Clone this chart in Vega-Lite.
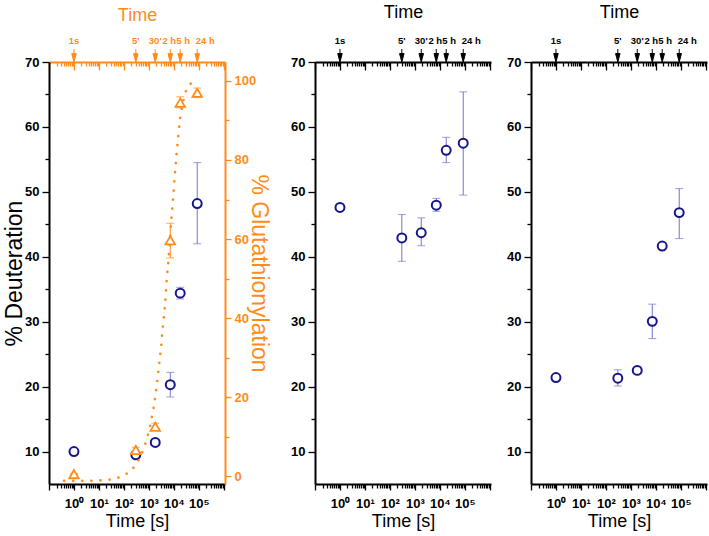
{
  "$schema": "https://vega.github.io/schema/vega-lite/v6.json",
  "padding": {"left": 3, "top": 3, "right": 4, "bottom": 4},
  "background": "white",
  "datasets": {
    "deut1": [
      {"t": 1, "v": 10.0, "lo": 9.8, "hi": 10.2},
      {"t": 300, "v": 9.5, "lo": 9.2, "hi": 9.8},
      {"t": 1800, "v": 11.4, "lo": 11.1, "hi": 11.7},
      {"t": 7200, "v": 20.3, "lo": 18.4, "hi": 22.2},
      {"t": 18000, "v": 34.4, "lo": 33.5, "hi": 35.3},
      {"t": 86400, "v": 48.2, "lo": 42.0, "hi": 54.5}
    ],
    "glut1": [
      {"t": 1, "g": 0.5, "lo": 0.3, "hi": 0.7},
      {"t": 300, "g": 6.6, "lo": 5.9, "hi": 7.3},
      {"t": 1800, "g": 12.5, "lo": 11.6, "hi": 13.4},
      {"t": 7200, "g": 59.7, "lo": 55.2, "hi": 64.0},
      {"t": 18000, "g": 94.5, "lo": 93.2, "hi": 96.0},
      {"t": 86400, "g": 97.0, "lo": 95.8, "hi": 98.2}
    ],
    "fit1": [
      {"t": 0.4, "g": -1.2}, {"t": 1, "g": -1.2}, {"t": 3.3, "g": -1.2}, {"t": 11, "g": -1.1},
      {"t": 33, "g": -0.8}, {"t": 83, "g": 0}, {"t": 195, "g": 1.5}, {"t": 330, "g": 3.3},
      {"t": 620, "g": 7}, {"t": 1100, "g": 12.5}, {"t": 1700, "g": 19}, {"t": 2450, "g": 27},
      {"t": 3100, "g": 33}, {"t": 3650, "g": 38}, {"t": 4500, "g": 44}, {"t": 5250, "g": 50},
      {"t": 6300, "g": 56}, {"t": 7750, "g": 64}, {"t": 9500, "g": 71}, {"t": 11500, "g": 78},
      {"t": 14000, "g": 84}, {"t": 17000, "g": 89.5}, {"t": 20000, "g": 92.5}, {"t": 25000, "g": 95.5},
      {"t": 33000, "g": 98}, {"t": 45000, "g": 99.2}, {"t": 60000, "g": 99.6}, {"t": 80000, "g": 100}
    ],
    "deut2": [
      {"t": 1, "v": 47.6, "lo": 47.4, "hi": 47.8},
      {"t": 300, "v": 42.9, "lo": 39.3, "hi": 46.5},
      {"t": 1800, "v": 43.7, "lo": 41.7, "hi": 46.0},
      {"t": 7200, "v": 47.95, "lo": 47.0, "hi": 49.0},
      {"t": 18000, "v": 56.4, "lo": 54.5, "hi": 58.4},
      {"t": 86400, "v": 57.5, "lo": 49.5, "hi": 65.4}
    ],
    "deut3": [
      {"t": 1, "v": 21.4, "lo": 21.2, "hi": 21.6},
      {"t": 300, "v": 21.3, "lo": 20.1, "hi": 22.6},
      {"t": 1800, "v": 22.5, "lo": 22.2, "hi": 22.8},
      {"t": 7200, "v": 30.05, "lo": 27.4, "hi": 32.7},
      {"t": 18000, "v": 41.65, "lo": 41.4, "hi": 41.9},
      {"t": 86400, "v": 46.8, "lo": 42.8, "hi": 50.5}
    ],
    "arrows": [
      {"t": 1, "label": "1s"}, {"t": 300, "label": "5'"}, {"t": 1800, "label": "30'"},
      {"t": 7200, "label": "2 h"}, {"t": 18000, "label": "5 h"}, {"t": 86400, "label": "24 h"}
    ]
  },
  "hconcat": [
    {
      "width": 176, "height": 422,
      "layer": [
        {
          "encoding": {
            "x": {"field": "t", "type": "quantitative", "scale": {"type": "log", "domain": [0.1, 1120000]},
              "axis": {"orient": "bottom", "values": [0.1,0.2,0.3,0.4,0.5,0.6,0.7,0.8,0.9,1,2,3,4,5,6,7,8,9,10,20,30,40,50,60,70,80,90,100,200,300,400,500,600,700,800,900,1000,2000,3000,4000,5000,6000,7000,8000,9000,10000,20000,30000,40000,50000,60000,70000,80000,90000,100000,200000,300000,400000,500000,600000,700000,800000,900000,1000000],
                "labelExpr": "datum.value == 1 ? '10⁰' : datum.value == 10 ? '10¹' : datum.value == 100 ? '10²' : datum.value == 1000 ? '10³' : datum.value == 10000 ? '10⁴' : datum.value == 100000 ? '10⁵' : ''",
                "labelOverlap": false, "labelFlush": false,
                "tickSize": {"condition": {"test": "indexof([0.1,1,10,100,1000,10000,100000,1000000], datum.value) >= 0", "value": 6}, "value": 4},
                "labelPadding": 7, "title": "Time [s]", "titleFontSize": 18, "titlePadding": 2}}
          },
          "layer": [
            {"data": {"name": "deut1"},
             "mark": {"type": "errorbar", "ticks": true, "size": 8, "thickness": 1, "color": "#7373c9"},
             "encoding": {
               "y": {"field": "lo", "type": "quantitative", "scale": {"domain": [5, 70], "nice": false, "zero": false},
                 "axis": {"orient": "left", "values": [10,15,20,25,30,35,40,45,50,55,60,65,70], "labelExpr": "datum.value % 10 == 0 ? datum.label : ''",
                   "tickSize": {"condition": {"test": "datum.value % 10 == 0", "value": 7}, "value": 4}, "labelPadding": 3,
                   "title": "% Deuteration", "titleFontSize": 23, "titlePadding": -2}},
               "y2": {"field": "hi"}}},
            {"data": {"name": "deut1"},
             "mark": {"type": "point", "shape": "circle", "size": 80, "filled": true, "fill": "white", "stroke": "#16168c", "strokeWidth": 2, "opacity": 1},
             "encoding": {
               "y": {"field": "v", "type": "quantitative", "scale": {"domain": [5, 70], "nice": false, "zero": false},
                 "axis": {"orient": "left", "values": [10,15,20,25,30,35,40,45,50,55,60,65,70], "labelExpr": "datum.value % 10 == 0 ? datum.label : ''",
                   "tickSize": {"condition": {"test": "datum.value % 10 == 0", "value": 7}, "value": 4}, "labelPadding": 3,
                   "title": "% Deuteration", "titleFontSize": 23, "titlePadding": -2}}}}
          ]
        },
        {
          "encoding": {
            "x": {"field": "t", "type": "quantitative", "scale": {"type": "log", "domain": [0.1, 1120000]},
              "axis": {"orient": "top", "values": [0.1,0.2,0.3,0.4,0.5,0.6,0.7,0.8,0.9,1,2,3,4,5,6,7,8,9,10,20,30,40,50,60,70,80,90,100,200,300,400,500,600,700,800,900,1000,2000,3000,4000,5000,6000,7000,8000,9000,10000,20000,30000,40000,50000,60000,70000,80000,90000,100000,200000,300000,400000,500000,600000,700000,800000,900000,1000000],
                "labels": false,
                "tickSize": {"condition": {"test": "indexof([0.1,1,10,100,1000,10000,100000,1000000], datum.value) >= 0", "value": -8}, "value": -4},
                "domainColor": "#ff8c1a", "tickColor": "#ff8c1a", "titleColor": "#ff8c1a",
                "title": "Time", "titleFontSize": 18, "titlePadding": 37}}
          },
          "layer": [
            {"data": {"name": "fit1"},
             "mark": {"type": "line", "color": "#ff8c1a", "strokeWidth": 2.6, "strokeDash": [0.1, 9], "strokeCap": "round", "interpolate": "monotone"},
             "encoding": {
               "y": {"field": "g", "type": "quantitative", "scale": {"domain": [-2, 104.8], "nice": false, "zero": false},
                 "axis": {"orient": "right", "values": [0,10,20,30,40,50,60,70,80,90,100], "labelExpr": "datum.value % 20 == 0 ? datum.label : ''",
                   "tickSize": {"condition": {"test": "datum.value % 20 == 0", "value": 6}, "value": 4}, "labelPadding": 3,
                   "domainColor": "#ff8c1a", "tickColor": "#ff8c1a", "labelColor": "#ff8c1a",
                   "title": "% Glutathionylation", "titleColor": "#ff8c1a", "titleFontSize": 23, "titlePadding": -9}}}},
            {"data": {"name": "glut1"},
             "mark": {"type": "errorbar", "ticks": true, "size": 8, "thickness": 1, "color": "#ff8c1a"},
             "encoding": {
               "y": {"field": "lo", "type": "quantitative", "scale": {"domain": [-2, 104.8], "nice": false, "zero": false},
                 "axis": {"orient": "right", "values": [0,10,20,30,40,50,60,70,80,90,100], "labelExpr": "datum.value % 20 == 0 ? datum.label : ''",
                   "tickSize": {"condition": {"test": "datum.value % 20 == 0", "value": 6}, "value": 4}, "labelPadding": 3,
                   "domainColor": "#ff8c1a", "tickColor": "#ff8c1a", "labelColor": "#ff8c1a",
                   "title": "% Glutathionylation", "titleColor": "#ff8c1a", "titleFontSize": 23, "titlePadding": -9}},
               "y2": {"field": "hi"}}},
            {"data": {"name": "glut1"},
             "mark": {"type": "point", "shape": "triangle-up", "size": 90, "filled": true, "fill": "white", "stroke": "#ff8c1a", "strokeWidth": 1.8, "opacity": 1},
             "encoding": {
               "y": {"field": "g", "type": "quantitative", "scale": {"domain": [-2, 104.8], "nice": false, "zero": false},
                 "axis": {"orient": "right", "values": [0,10,20,30,40,50,60,70,80,90,100], "labelExpr": "datum.value % 20 == 0 ? datum.label : ''",
                   "tickSize": {"condition": {"test": "datum.value % 20 == 0", "value": 6}, "value": 4}, "labelPadding": 3,
                   "domainColor": "#ff8c1a", "tickColor": "#ff8c1a", "labelColor": "#ff8c1a",
                   "title": "% Glutathionylation", "titleColor": "#ff8c1a", "titleFontSize": 23, "titlePadding": -9}}}},
            {"data": {"name": "arrows"},
             "mark": {"type": "point", "shape": "M0,-1.3V-0.5M-0.4,-0.5H0.4L0,1Z", "size": 128, "filled": true, "fill": "#ff8c1a", "stroke": "#ff8c1a", "strokeWidth": 1, "opacity": 1},
             "encoding": {
               "y": {"datum": 106.2, "type": "quantitative", "scale": {"domain": [-2, 104.8], "nice": false, "zero": false},
                 "axis": {"orient": "right", "values": [0,10,20,30,40,50,60,70,80,90,100], "labelExpr": "datum.value % 20 == 0 ? datum.label : ''",
                   "tickSize": {"condition": {"test": "datum.value % 20 == 0", "value": 6}, "value": 4}, "labelPadding": 3,
                   "domainColor": "#ff8c1a", "tickColor": "#ff8c1a", "labelColor": "#ff8c1a",
                   "title": "% Glutathionylation", "titleColor": "#ff8c1a", "titleFontSize": 23, "titlePadding": -9}}}},
            {"data": {"name": "arrows"},
             "mark": {"type": "text", "font": "Liberation Sans", "fontWeight": "bold", "fontSize": 9.5, "color": "#ff8c1a", "baseline": "middle", "align": "center",
               "dx": {"expr": "datum.label == '24 h' ? 8 : datum.label == '5 h' ? 3 : datum.label == '2 h' ? -1 : 0"}},
             "encoding": {
               "text": {"field": "label"},
               "y": {"datum": 110.2, "type": "quantitative", "scale": {"domain": [-2, 104.8], "nice": false, "zero": false},
                 "axis": {"orient": "right", "values": [0,10,20,30,40,50,60,70,80,90,100], "labelExpr": "datum.value % 20 == 0 ? datum.label : ''",
                   "tickSize": {"condition": {"test": "datum.value % 20 == 0", "value": 6}, "value": 4}, "labelPadding": 3,
                   "domainColor": "#ff8c1a", "tickColor": "#ff8c1a", "labelColor": "#ff8c1a",
                   "title": "% Glutathionylation", "titleColor": "#ff8c1a", "titleFontSize": 23, "titlePadding": -9}}}}
          ]
        }
      ],
      "resolve": {"scale": {"y": "independent"}, "axis": {"x": "independent"}}
    },
    {
      "hconcat": [
        {
          "width": 176, "height": 422,
          "layer": [
            {
              "encoding": {
                "x": {"field": "t", "type": "quantitative", "scale": {"type": "log", "domain": [0.1, 1120000]},
                  "axis": {"orient": "bottom", "values": [0.1,0.2,0.3,0.4,0.5,0.6,0.7,0.8,0.9,1,2,3,4,5,6,7,8,9,10,20,30,40,50,60,70,80,90,100,200,300,400,500,600,700,800,900,1000,2000,3000,4000,5000,6000,7000,8000,9000,10000,20000,30000,40000,50000,60000,70000,80000,90000,100000,200000,300000,400000,500000,600000,700000,800000,900000,1000000],
                    "labelExpr": "datum.value == 1 ? '10⁰' : datum.value == 10 ? '10¹' : datum.value == 100 ? '10²' : datum.value == 1000 ? '10³' : datum.value == 10000 ? '10⁴' : datum.value == 100000 ? '10⁵' : ''",
                    "labelOverlap": false, "labelFlush": false,
                    "tickSize": {"condition": {"test": "indexof([0.1,1,10,100,1000,10000,100000,1000000], datum.value) >= 0", "value": 6}, "value": 4},
                    "labelPadding": 7, "title": "Time [s]", "titleFontSize": 18, "titlePadding": 2}}
              },
              "layer": [
                {"data": {"name": "deut2"},
                 "mark": {"type": "errorbar", "ticks": true, "size": 8, "thickness": 1, "color": "#7373c9"},
                 "encoding": {
                   "y": {"field": "lo", "type": "quantitative", "scale": {"domain": [5, 70], "nice": false, "zero": false},
                     "axis": {"orient": "left", "values": [10,15,20,25,30,35,40,45,50,55,60,65,70], "labelExpr": "datum.value % 10 == 0 ? datum.label : ''",
                       "tickSize": {"condition": {"test": "datum.value % 10 == 0", "value": 7}, "value": 4}, "labelPadding": 3, "title": null}},
                   "y2": {"field": "hi"}}},
                {"data": {"name": "deut2"},
                 "mark": {"type": "point", "shape": "circle", "size": 80, "filled": true, "fill": "white", "stroke": "#16168c", "strokeWidth": 2, "opacity": 1},
                 "encoding": {
                   "y": {"field": "v", "type": "quantitative", "scale": {"domain": [5, 70], "nice": false, "zero": false},
                     "axis": {"orient": "left", "values": [10,15,20,25,30,35,40,45,50,55,60,65,70], "labelExpr": "datum.value % 10 == 0 ? datum.label : ''",
                       "tickSize": {"condition": {"test": "datum.value % 10 == 0", "value": 7}, "value": 4}, "labelPadding": 3, "title": null}}}}
              ]
            },
            {
              "data": {"name": "arrows"},
              "encoding": {
                "x": {"field": "t", "type": "quantitative", "scale": {"type": "log", "domain": [0.1, 1120000]},
                  "axis": {"orient": "top", "values": [0.1,0.2,0.3,0.4,0.5,0.6,0.7,0.8,0.9,1,2,3,4,5,6,7,8,9,10,20,30,40,50,60,70,80,90,100,200,300,400,500,600,700,800,900,1000,2000,3000,4000,5000,6000,7000,8000,9000,10000,20000,30000,40000,50000,60000,70000,80000,90000,100000,200000,300000,400000,500000,600000,700000,800000,900000,1000000],
                    "labels": false,
                    "tickSize": {"condition": {"test": "indexof([0.1,1,10,100,1000,10000,100000,1000000], datum.value) >= 0", "value": -8}, "value": -4},
                    "title": "Time", "titleFontSize": 18, "titlePadding": 40}}
              },
              "layer": [
                {"mark": {"type": "point", "shape": "M0,-1.3V-0.5M-0.4,-0.5H0.4L0,1Z", "size": 128, "filled": true, "fill": "#000", "stroke": "#000", "strokeWidth": 1, "opacity": 1},
                 "encoding": {
                   "y": {"datum": 70.87, "type": "quantitative", "scale": {"domain": [5, 70], "nice": false, "zero": false},
                     "axis": {"orient": "left", "values": [10,15,20,25,30,35,40,45,50,55,60,65,70], "labelExpr": "datum.value % 10 == 0 ? datum.label : ''",
                       "tickSize": {"condition": {"test": "datum.value % 10 == 0", "value": 7}, "value": 4}, "labelPadding": 3, "title": null}}}},
                {"mark": {"type": "text", "font": "Liberation Sans", "fontWeight": "bold", "fontSize": 9.5, "color": "#000", "baseline": "middle", "align": "center",
                   "dx": {"expr": "datum.label == '24 h' ? 8 : datum.label == '5 h' ? 3 : datum.label == '2 h' ? -1 : 0"}},
                 "encoding": {
                   "text": {"field": "label"},
                   "y": {"datum": 73.2, "type": "quantitative", "scale": {"domain": [5, 70], "nice": false, "zero": false},
                     "axis": {"orient": "left", "values": [10,15,20,25,30,35,40,45,50,55,60,65,70], "labelExpr": "datum.value % 10 == 0 ? datum.label : ''",
                       "tickSize": {"condition": {"test": "datum.value % 10 == 0", "value": 7}, "value": 4}, "labelPadding": 3, "title": null}}}}
              ]
            }
          ],
          "resolve": {"axis": {"x": "independent"}}
        },
        {
          "width": 176, "height": 422,
          "layer": [
            {
              "encoding": {
                "x": {"field": "t", "type": "quantitative", "scale": {"type": "log", "domain": [0.1, 1120000]},
                  "axis": {"orient": "bottom", "values": [0.1,0.2,0.3,0.4,0.5,0.6,0.7,0.8,0.9,1,2,3,4,5,6,7,8,9,10,20,30,40,50,60,70,80,90,100,200,300,400,500,600,700,800,900,1000,2000,3000,4000,5000,6000,7000,8000,9000,10000,20000,30000,40000,50000,60000,70000,80000,90000,100000,200000,300000,400000,500000,600000,700000,800000,900000,1000000],
                    "labelExpr": "datum.value == 1 ? '10⁰' : datum.value == 10 ? '10¹' : datum.value == 100 ? '10²' : datum.value == 1000 ? '10³' : datum.value == 10000 ? '10⁴' : datum.value == 100000 ? '10⁵' : ''",
                    "labelOverlap": false, "labelFlush": false,
                    "tickSize": {"condition": {"test": "indexof([0.1,1,10,100,1000,10000,100000,1000000], datum.value) >= 0", "value": 6}, "value": 4},
                    "labelPadding": 7, "title": "Time [s]", "titleFontSize": 18, "titlePadding": 2}}
              },
              "layer": [
                {"data": {"name": "deut3"},
                 "mark": {"type": "errorbar", "ticks": true, "size": 8, "thickness": 1, "color": "#7373c9"},
                 "encoding": {
                   "y": {"field": "lo", "type": "quantitative", "scale": {"domain": [5, 70], "nice": false, "zero": false},
                     "axis": {"orient": "left", "values": [10,15,20,25,30,35,40,45,50,55,60,65,70], "labelExpr": "datum.value % 10 == 0 ? datum.label : ''",
                       "tickSize": {"condition": {"test": "datum.value % 10 == 0", "value": 7}, "value": 4}, "labelPadding": 3, "title": null}},
                   "y2": {"field": "hi"}}},
                {"data": {"name": "deut3"},
                 "mark": {"type": "point", "shape": "circle", "size": 80, "filled": true, "fill": "white", "stroke": "#16168c", "strokeWidth": 2, "opacity": 1},
                 "encoding": {
                   "y": {"field": "v", "type": "quantitative", "scale": {"domain": [5, 70], "nice": false, "zero": false},
                     "axis": {"orient": "left", "values": [10,15,20,25,30,35,40,45,50,55,60,65,70], "labelExpr": "datum.value % 10 == 0 ? datum.label : ''",
                       "tickSize": {"condition": {"test": "datum.value % 10 == 0", "value": 7}, "value": 4}, "labelPadding": 3, "title": null}}}}
              ]
            },
            {
              "data": {"name": "arrows"},
              "encoding": {
                "x": {"field": "t", "type": "quantitative", "scale": {"type": "log", "domain": [0.1, 1120000]},
                  "axis": {"orient": "top", "values": [0.1,0.2,0.3,0.4,0.5,0.6,0.7,0.8,0.9,1,2,3,4,5,6,7,8,9,10,20,30,40,50,60,70,80,90,100,200,300,400,500,600,700,800,900,1000,2000,3000,4000,5000,6000,7000,8000,9000,10000,20000,30000,40000,50000,60000,70000,80000,90000,100000,200000,300000,400000,500000,600000,700000,800000,900000,1000000],
                    "labels": false,
                    "tickSize": {"condition": {"test": "indexof([0.1,1,10,100,1000,10000,100000,1000000], datum.value) >= 0", "value": -8}, "value": -4},
                    "title": "Time", "titleFontSize": 18, "titlePadding": 40}}
              },
              "layer": [
                {"mark": {"type": "point", "shape": "M0,-1.3V-0.5M-0.4,-0.5H0.4L0,1Z", "size": 128, "filled": true, "fill": "#000", "stroke": "#000", "strokeWidth": 1, "opacity": 1},
                 "encoding": {
                   "y": {"datum": 70.87, "type": "quantitative", "scale": {"domain": [5, 70], "nice": false, "zero": false},
                     "axis": {"orient": "left", "values": [10,15,20,25,30,35,40,45,50,55,60,65,70], "labelExpr": "datum.value % 10 == 0 ? datum.label : ''",
                       "tickSize": {"condition": {"test": "datum.value % 10 == 0", "value": 7}, "value": 4}, "labelPadding": 3, "title": null}}}},
                {"mark": {"type": "text", "font": "Liberation Sans", "fontWeight": "bold", "fontSize": 9.5, "color": "#000", "baseline": "middle", "align": "center",
                   "dx": {"expr": "datum.label == '24 h' ? 8 : datum.label == '5 h' ? 3 : datum.label == '2 h' ? -1 : 0"}},
                 "encoding": {
                   "text": {"field": "label"},
                   "y": {"datum": 73.2, "type": "quantitative", "scale": {"domain": [5, 70], "nice": false, "zero": false},
                     "axis": {"orient": "left", "values": [10,15,20,25,30,35,40,45,50,55,60,65,70], "labelExpr": "datum.value % 10 == 0 ? datum.label : ''",
                       "tickSize": {"condition": {"test": "datum.value % 10 == 0", "value": 7}, "value": 4}, "labelPadding": 3, "title": null}}}}
              ]
            }
          ],
          "resolve": {"axis": {"x": "independent"}}
        }
      ],
      "spacing": 40,
      "bounds": "flush"
    }
  ],
  "spacing": 90,
  "bounds": "flush",
  "config": {
    "view": {"stroke": null},
    "font": "Liberation Sans",
    "axis": {
      "grid": false, "domainColor": "#000", "domainWidth": 2, "tickColor": "#000", "tickWidth": 1.3,
      "labelFont": "Liberation Sans", "labelFontWeight": "bold", "labelFontSize": 13, "labelColor": "#000",
      "titleFont": "Liberation Sans", "titleFontWeight": "normal", "titleColor": "#000"
    }
  }
}
